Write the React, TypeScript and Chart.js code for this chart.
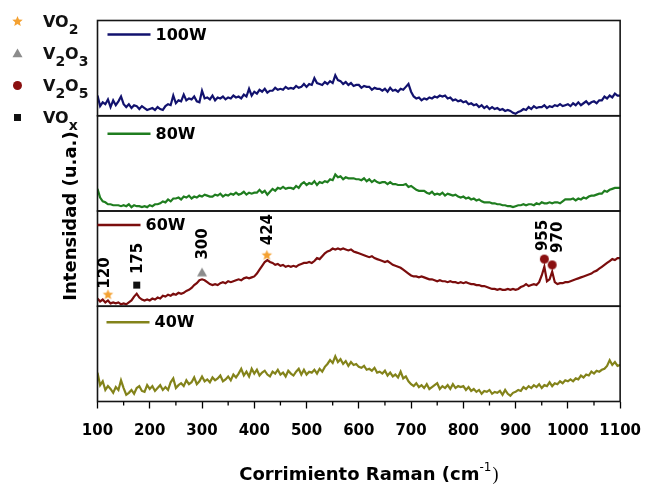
import React, { useEffect, useRef } from 'react';
import { Chart, registerables } from 'chart.js';

Chart.register(...registerables);

// Raman shift sampling grid (cm^-1), 100 → 1100 every 5
const ramanShift: number[] = Array.from({ length: 201 }, (_, i) => 100 + i * 5);

// Intensities (arbitrary units, each panel scaled 0–99)
const intensity100W: number[] = [
  21, 10, 14, 12, 17, 9, 16, 11, 15, 20, 12, 9, 12, 8, 11, 10, 7, 10, 8, 6,
  7, 8, 6, 9, 7, 6, 10, 12, 11, 21, 13, 16, 15, 22, 16, 18, 17, 20, 15, 14,
  26, 18, 19, 17, 21, 16, 19, 18, 20, 17, 19, 18, 21, 19, 20, 18, 22, 20, 28, 21,
  25, 23, 27, 25, 28, 24, 26, 26, 29, 27, 28, 27, 30, 28, 29, 28, 31, 29, 30, 33,
  30, 33, 32, 39, 34, 33, 32, 35, 33, 36, 34, 42, 37, 36, 33, 35, 32, 34, 31, 32,
  32, 29, 31, 30, 30, 27, 29, 28, 28, 26, 28, 25, 29, 26, 27, 25, 28, 27, 30, 33,
  25, 20, 18, 19, 16, 18, 17, 19, 18, 20, 19, 21, 20, 21, 18, 19, 16, 17, 15, 16,
  14, 15, 12, 13, 11, 12, 9, 11, 8, 10, 7, 9, 7, 8, 6, 7, 5, 6, 5, 3,
  2, 4, 5, 7, 6, 9, 7, 10, 8, 9, 9, 11, 8, 10, 9, 11, 10, 12, 10, 11,
  12, 10, 13, 11, 14, 11, 13, 15, 12, 14, 15, 13, 16, 16, 20, 18, 21, 19, 23, 21,
  21,
];

const intensity80W: number[] = [
  23, 14, 10, 9, 7, 7, 6, 6, 6, 5, 6, 5, 7, 4, 6, 5, 5, 4, 5, 4,
  6, 5, 7, 7, 8, 10, 9, 12, 10, 13, 13, 14, 12, 15, 14, 16, 13, 15, 14, 16,
  15, 17, 16, 15, 15, 17, 16, 18, 15, 17, 16, 18, 17, 19, 17, 18, 20, 17, 19, 18,
  19, 19, 22, 19, 21, 17, 20, 23, 21, 24, 23, 25, 23, 24, 24, 23, 26, 24, 28, 30,
  27, 29, 28, 31, 27, 30, 29, 31, 30, 33, 32, 38, 35, 36, 33, 35, 34, 34, 34, 33,
  33, 32, 34, 31, 33, 30, 32, 30, 29, 30, 30, 28, 30, 28, 28, 27, 27, 27, 28, 25,
  26, 24, 22, 21, 21, 21, 19, 18, 20, 17, 18, 17, 19, 16, 18, 17, 16, 17, 15, 14,
  15, 13, 14, 12, 13, 11, 12, 10, 9, 9, 9, 8, 8, 7, 7, 6, 6, 5, 5, 4,
  5, 6, 6, 7, 6, 7, 7, 6, 8, 7, 9, 8, 8, 9, 8, 9, 9, 8, 10, 12,
  12, 12, 13, 11, 13, 12, 14, 13, 15, 16, 16, 17, 18, 18, 21, 20, 22, 23, 24, 24,
  24,
];

const intensity60W: number[] = [
  8, 5, 7, 4, 6, 3, 4, 3, 4, 2, 3, 2, 4, 6, 10, 13, 9, 7, 6, 7,
  6, 8, 7, 9, 8, 11, 10, 12, 11, 13, 12, 14, 13, 14, 16, 17, 19, 22, 24, 27,
  28, 27, 25, 23, 22, 23, 22, 24, 25, 24, 26, 25, 26, 27, 28, 27, 29, 30, 29, 30,
  31, 34, 38, 42, 46, 48, 46, 45, 43, 44, 42, 43, 41, 42, 41, 42, 41, 43, 44, 45,
  45, 46, 45, 47, 50, 49, 52, 55, 57, 58, 60, 59, 60, 59, 60, 59, 58, 59, 57, 56,
  55, 54, 53, 52, 51, 52, 50, 49, 48, 47, 46, 47, 45, 43, 42, 41, 40, 38, 36, 34,
  32, 31, 31, 30, 31, 30, 29, 28, 28, 27, 26, 27, 26, 26, 25, 26, 25, 25, 24, 25,
  24, 25, 24, 23, 23, 22, 22, 21, 21, 20, 19, 18, 18, 17, 18, 17, 17, 18, 17, 18,
  17, 18, 20, 21, 23, 21, 22, 23, 22, 25, 32, 41, 26, 28, 36, 25, 23, 24, 24, 25,
  25, 26, 27, 28, 29, 30, 31, 32, 33, 34, 36, 37, 39, 41, 43, 45, 47, 49, 48, 50,
  50,
];

const intensity40W: number[] = [
  30, 17, 21, 12, 16, 13, 9, 15, 12, 22, 14, 7, 9, 12, 8, 14, 16, 11, 10, 17,
  13, 16, 11, 14, 17, 12, 15, 12, 20, 24, 14, 17, 19, 16, 22, 18, 20, 25, 18, 21,
  26, 21, 23, 20, 25, 22, 24, 27, 21, 23, 26, 22, 28, 25, 29, 34, 27, 31, 26, 34,
  29, 33, 27, 30, 32, 28, 26, 31, 29, 33, 28, 30, 26, 32, 29, 27, 31, 34, 28, 33,
  28, 31, 30, 33, 29, 34, 31, 36, 39, 43, 40, 47, 41, 44, 39, 42, 37, 41, 38, 39,
  36, 35, 37, 33, 34, 32, 35, 30, 31, 29, 32, 27, 30, 26, 28, 25, 31, 24, 26, 21,
  18, 16, 19, 15, 17, 14, 18, 13, 15, 17, 19, 13, 16, 14, 17, 13, 18, 14, 16, 15,
  16, 12, 15, 11, 13, 10, 12, 8, 11, 10, 12, 8, 10, 9, 11, 7, 12, 8, 6, 9,
  10, 12, 11, 15, 13, 16, 14, 17, 15, 18, 14, 17, 16, 20, 16, 19, 18, 21, 19, 22,
  21, 23, 21, 24, 23, 27, 25, 28, 27, 31, 29, 32, 31, 33, 34, 37, 43, 38, 41, 37,
  38,
];

const seriesLabels: string[] = ['100W', '80W', '60W', '40W'];
const seriesData: number[][] = [intensity100W, intensity80W, intensity60W, intensity40W];

// Peak annotations (60W panel)
const peakPositions: number[] = [120, 175, 300, 424, 955, 970];
const peakMarkerLevels: number[] = [12, 22, 35, 53, 49, 43];
const peakPhases: string[] = ['VO2', 'VOx', 'V2O3', 'VO2', 'V2O5', 'V2O5'];
const peakLabels: string[] = ['120', '175', '300', '424', '955', '970'];

// Phase legend
const phaseKeys: string[] = ['VO2', 'V2O3', 'V2O5', 'VOx'];
const phaseText: [string, boolean][][] = [
  [['VO', false], ['2', true]],
  [['V', false], ['2', true], ['O', false], ['3', true]],
  [['V', false], ['2', true], ['O', false], ['5', true]],
  [['VO', false], ['x', true]],
];

const xMin = 100;
const xMax = 1100;
const xStep = 100;
const xTitle = 'Corrimiento Raman (cm';
const xTitleSup = '-1';
const yTitle = 'Intensidad (u.a.)';

// ---- styles ----
const FONT = 'DejaVu Sans';
const panelStyles = [
  { id: 'y100', color: '#12126e', labelDy: 14, lineX0: 10, weight: 4 },
  { id: 'y80', color: '#1f7d1f', labelDy: 18, lineX0: 10, weight: 3 },
  { id: 'y60', color: '#7b0d0d', labelDy: 14, lineX0: 0, weight: 2 },
  { id: 'y40', color: '#83831a', labelDy: 16, lineX0: 9, weight: 1 },
];
const phaseStyles: Record<string, { shape: string; color: string; size: number }> = {
  VO2: { shape: 'star', color: '#f4a131', size: 11 },
  V2O3: { shape: 'triangle', color: '#8c8c8c', size: 10 },
  V2O5: { shape: 'circle', color: '#8a0f10', size: 9 },
  VOx: { shape: 'square', color: '#111111', size: 7 },
};
const peakLabelOffsets: [number, number][] = [[-4, 6], [0, 11], [-1, 13], [0, 10], [-3, 8], [4, 12]];

function drawShape(ctx: CanvasRenderingContext2D, shape: string, cx: number, cy: number, size: number, color: string) {
  ctx.save();
  ctx.fillStyle = color;
  ctx.beginPath();
  const R = size / 2;
  if (shape === 'star') {
    const r = R * 0.45;
    for (let i = 0; i < 10; i++) {
      const a = -Math.PI / 2 + (i * Math.PI) / 5;
      const rad = i % 2 === 0 ? R : r;
      const px = cx + rad * Math.cos(a);
      const py = cy + rad * Math.sin(a);
      if (i === 0) ctx.moveTo(px, py);
      else ctx.lineTo(px, py);
    }
    ctx.closePath();
  } else if (shape === 'triangle') {
    ctx.moveTo(cx, cy - R);
    ctx.lineTo(cx + R, cy + R * 0.75);
    ctx.lineTo(cx - R, cy + R * 0.75);
    ctx.closePath();
  } else if (shape === 'circle') {
    ctx.arc(cx, cy, R, 0, Math.PI * 2);
  } else {
    ctx.rect(cx - R, cy - R, size, size);
  }
  ctx.fill();
  ctx.restore();
}

function makeShapeCanvas(key: string): HTMLCanvasElement {
  const st = phaseStyles[key];
  const c = document.createElement('canvas');
  const s = st.size + 2;
  c.width = s;
  c.height = s;
  const ctx = c.getContext('2d') as CanvasRenderingContext2D;
  drawShape(ctx, st.shape, s / 2, s / 2, st.size, st.color);
  return c;
}

const decorPlugin = {
  id: 'ramanDecor',
  afterDraw(chart: any) {
    const ctx: CanvasRenderingContext2D = chart.ctx;
    const area = chart.chartArea;
    const xs = chart.scales.x;
    ctx.save();

    // panel frames
    ctx.strokeStyle = '#151515';
    ctx.lineWidth = 1.6;
    panelStyles.forEach((p) => {
      const s = chart.scales[p.id];
      ctx.strokeRect(area.left, s.top, area.right - area.left, s.bottom - s.top);
    });

    // minor ticks
    ctx.lineWidth = 1.3;
    ctx.strokeStyle = '#000';
    for (let v = xMin + xStep / 2; v < xMax; v += xStep) {
      const px = xs.getPixelForValue(v);
      ctx.beginPath();
      ctx.moveTo(px, area.bottom);
      ctx.lineTo(px, area.bottom + 4);
      ctx.stroke();
    }

    // panel labels
    panelStyles.forEach((p, i) => {
      const s = chart.scales[p.id];
      const y = s.top + p.labelDy;
      const x0 = area.left + p.lineX0;
      ctx.strokeStyle = p.color;
      ctx.lineWidth = 2.5;
      ctx.beginPath();
      ctx.moveTo(x0, y);
      ctx.lineTo(x0 + 43, y);
      ctx.stroke();
      ctx.fillStyle = '#000';
      ctx.font = `bold 16px "${FONT}"`;
      ctx.textAlign = 'left';
      ctx.textBaseline = 'middle';
      ctx.fillText(seriesLabels[i], x0 + 48, y + 1);
    });

    // peak labels
    const y60 = chart.scales.y60;
    ctx.fillStyle = '#000';
    ctx.font = `bold 15px "${FONT}"`;
    ctx.textAlign = 'left';
    ctx.textBaseline = 'alphabetic';
    peakPositions.forEach((pos, i) => {
      const px = xs.getPixelForValue(pos) + peakLabelOffsets[i][0];
      const py = y60.getPixelForValue(peakMarkerLevels[i]) - peakLabelOffsets[i][1];
      ctx.save();
      ctx.translate(px + 5.5, py);
      ctx.rotate(-Math.PI / 2);
      ctx.fillText(peakLabels[i], 0, 0);
      ctx.restore();
    });

    // phase legend
    phaseKeys.forEach((k, i) => {
      const st = phaseStyles[k];
      const my = 21.5 + i * 32;
      drawShape(ctx, st.shape, 17.5, my, st.size, st.color);
      let tx = 43;
      const base = my + 5.5;
      phaseText[i].forEach(([t, sub]) => {
        ctx.font = sub ? `bold 14px "${FONT}"` : `bold 16px "${FONT}"`;
        ctx.fillStyle = '#111';
        ctx.textAlign = 'left';
        ctx.textBaseline = 'alphabetic';
        ctx.fillText(t, tx, sub ? base + 7 : base);
        tx += ctx.measureText(t).width;
      });
    });

    // y title
    ctx.save();
    ctx.translate(71.5, (area.top + area.bottom) / 2 + 5);
    ctx.rotate(-Math.PI / 2);
    ctx.font = `bold 18px "${FONT}"`;
    ctx.fillStyle = '#000';
    ctx.textAlign = 'center';
    ctx.textBaseline = 'middle';
    ctx.fillText(yTitle, 0, 0);
    ctx.restore();

    // x title
    ctx.font = `bold 18px "${FONT}"`;
    const w1 = ctx.measureText(xTitle).width;
    ctx.font = `12px "${FONT}"`;
    const w2 = ctx.measureText(xTitleSup).width;
    ctx.font = `18px "Liberation Serif"`;
    const w3 = ctx.measureText(')').width;
    const total = w1 + w2 + w3 + 1;
    let tx = (area.left + area.right) / 2 + 10 - total / 2;
    const ty = 480;
    ctx.fillStyle = '#000';
    ctx.textAlign = 'left';
    ctx.textBaseline = 'alphabetic';
    ctx.font = `bold 18px "${FONT}"`;
    ctx.fillText(xTitle, tx, ty);
    tx += w1;
    ctx.font = `12px "${FONT}"`;
    ctx.fillText(xTitleSup, tx, ty - 9);
    tx += w2 + 1;
    ctx.font = `18px "Liberation Serif"`;
    ctx.fillText(')', tx, ty);

    ctx.restore();
  },
};

export default function App() {
  const ref = useRef<HTMLCanvasElement>(null);

  useEffect(() => {
    const canvas = ref.current;
    if (!canvas) return;

    const lineDatasets = seriesData.map((vals, i) => ({
      type: 'line' as const,
      label: seriesLabels[i],
      data: ramanShift.map((x, j) => ({ x, y: vals[j] })),
      yAxisID: panelStyles[i].id,
      borderColor: panelStyles[i].color,
      borderWidth: 2.2,
      pointRadius: 0,
      tension: 0,
      fill: false,
    }));

    const shapeCanvases: Record<string, HTMLCanvasElement> = {};
    phaseKeys.forEach((k) => (shapeCanvases[k] = makeShapeCanvas(k)));

    const markerDataset = {
      type: 'scatter' as const,
      label: 'peaks',
      data: peakPositions.map((x, i) => ({ x, y: peakMarkerLevels[i] })),
      yAxisID: 'y60',
      pointStyle: peakPhases.map((p) => shapeCanvases[p]),
      pointRadius: 5,
      showLine: false,
    };

    const yScales: Record<string, any> = {};
    panelStyles.forEach((p) => {
      yScales[p.id] = {
        type: 'linear',
        display: false,
        stack: 'panels',
        stackWeight: 1,
        weight: p.weight,
        min: 0,
        max: 99,
      };
    });

    const chart = new Chart(canvas, {
      type: 'line',
      data: { datasets: [...lineDatasets, markerDataset] as any },
      options: {
        responsive: false,
        animation: false,
        devicePixelRatio: 1,
        layout: { padding: { left: 97.5, right: 24, top: 20.5, bottom: 32.5 } },
        plugins: {
          legend: { display: false },
          tooltip: { enabled: false },
        },
        scales: {
          x: {
            type: 'linear',
            min: xMin,
            max: xMax,
            ticks: {
              stepSize: xStep,
              color: '#000',
              font: { family: FONT, size: 15, weight: 'bold' },
              padding: 14,
              maxRotation: 0,
              autoSkip: false,
              callback: (v: any) => String(v),
            },
            grid: {
              drawOnChartArea: false,
              drawTicks: true,
              tickLength: 7,
              color: '#000',
              tickWidth: 1.3,
            },
            border: { display: false },
          },
          ...yScales,
        },
      } as any,
      plugins: [decorPlugin],
    });

    return () => chart.destroy();
  }, []);

  return (
    <div style={{ position: 'absolute', left: 0, top: 0, width: 655, height: 487, background: '#fff' }}>
      <canvas ref={ref} width={655} height={487} style={{ display: 'block', width: 655, height: 487 }} />
    </div>
  );
}
